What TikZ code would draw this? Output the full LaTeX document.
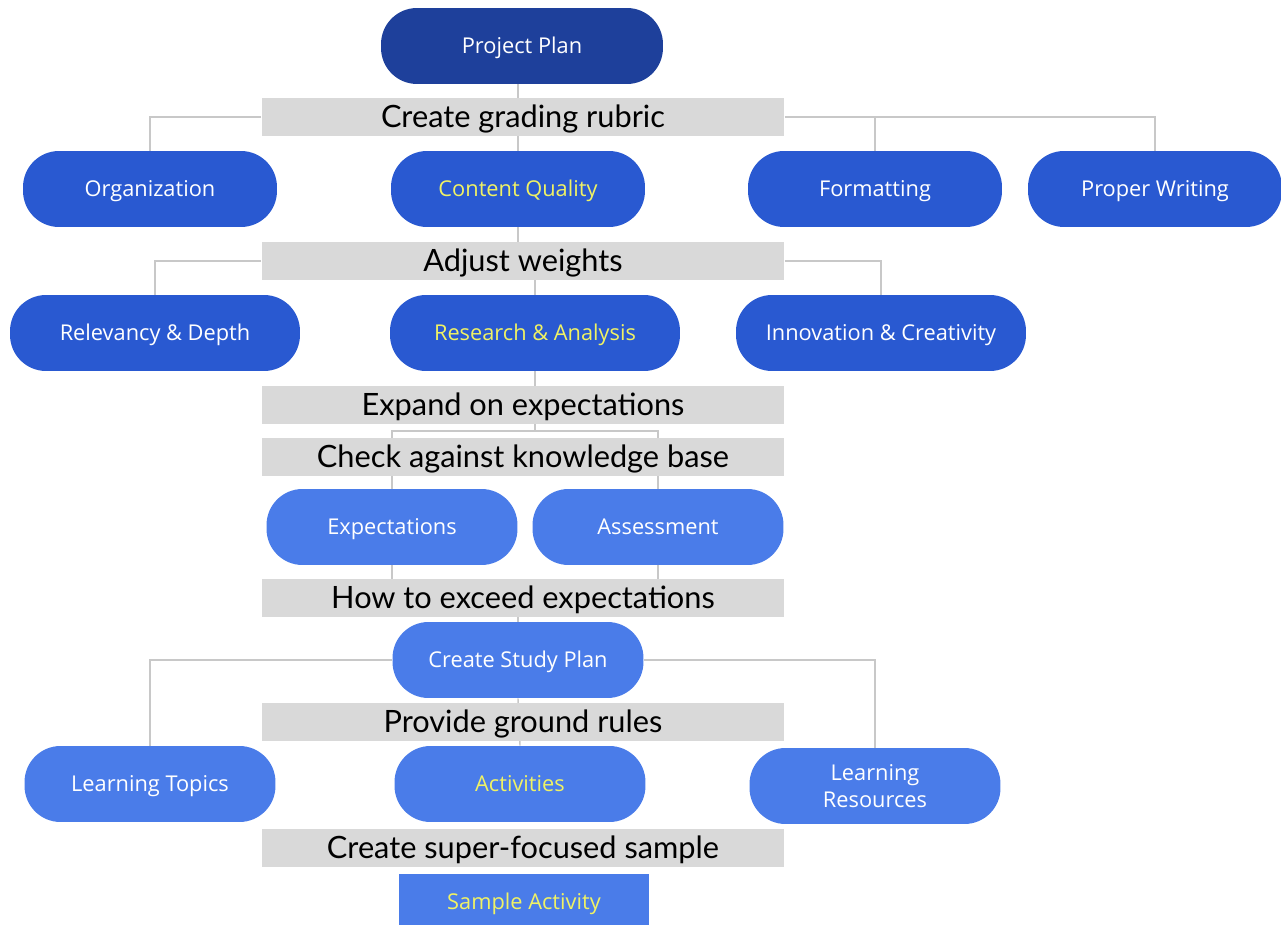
\documentclass[tikz,border=0pt]{standalone}
\usepackage{fontspec}
\setmainfont{Open Sans}
\newfontfamily\barfont{Lato}
\usepackage{tikz}
\usetikzlibrary{positioning, backgrounds}
\definecolor{planblue}{RGB}{30,64,155}
\definecolor{rowblue}{RGB}{41,89,209}
\definecolor{lightblue}{RGB}{74,124,233}
\definecolor{hilite}{RGB}{240,242,100}
\definecolor{bargray}{RGB}{217,217,217}
\definecolor{linegray}{RGB}{200,200,200}

\begin{document}
\begin{tikzpicture}[x=0.02cm, y=-0.02cm,
    pill/.style={fill=#1, text=white, rounded corners=0.72cm, minimum height=1.52cm,
      inner sep=0pt, align=center, text height=2ex, text depth=0.4ex,
      font=\fontsize{12.4}{15.5}\selectfont},
    wide/.style={minimum width=5.08cm},
    wider/.style={minimum width=5.8cm},
    narrow/.style={minimum width=5.02cm},
    pick/.style={text=hilite},
    bar/.style={fill=bargray, minimum width=10.46cm, minimum height=0.76cm,
      inner sep=0pt, text height=2.45ex, text depth=0.25ex,
      font=\barfont\fontsize{17.5}{20}\selectfont},
    link/.style={draw=linegray, line width=0.8pt}]
            \useasboundingbox (0,0) rectangle (1281,925);
            \node[pill=planblue, minimum width=5.64cm] (plan) at (522,46) {Project Plan};
            \node[bar] (rubric) at (523,117) {Create grading rubric};
            \node[pill=rowblue, wide] (org) at (150,189) {Organization};
            \node[pill=rowblue, wide, pick] (quality) at (518,189) {Content Quality};
            \node[pill=rowblue, wide] (format) at (875,189) {Formatting};
            \node[pill=rowblue, wide] (writing) at (1155,189) {Proper Writing};
            \node[bar] (weights) at (523,261) {Adjust weights};
            \node[pill=rowblue, wider] (depth) at (155,333) {Relevancy \& Depth};
            \node[pill=rowblue, wider, pick] (research) at (535,333) {Research \& Analysis};
            \node[pill=rowblue, wider] (innov) at (881,333) {Innovation \& Creativity};
            \node[bar] (expand) at (523,405) {Expand on expectations};
            \node[bar] (check) at (523,457) {Check against knowledge base};
            \coordinate (split) at (535,431);
            \node[pill=lightblue, narrow] (expect) at (392,527) {Expectations};
            \node[pill=lightblue, narrow] (assess) at (658,527) {Assessment};
            \node[bar] (exceed) at (523,598) {How to exceed expectations};
            \node[pill=lightblue, narrow] (study) at (518,660) {Create Study Plan};
            \node[bar] (rules) at (523,722) {Provide ground rules};
            \node[pill=lightblue, narrow] (topics) at (150,784) {Learning Topics};
            \node[pill=lightblue, narrow, pick] (activ) at (520,784) {Activities};
            \node[pill=lightblue, narrow, text height={}, text depth={}] (resources) at (875,786) {Learning\\Resources};
            \node[bar] (focused) at (523,848) {Create super-focused sample};
            \node[fill=lightblue, text=hilite, minimum width=5cm, minimum height=1.12cm,
              inner sep=0pt, text height=2ex, text depth=0.4ex,
              font=\fontsize{12.4}{15.5}\selectfont] (sample) at (524,902) {Sample Activity};
            \begin{scope}[on background layer]
              \draw[link] (quality.north) -- (quality.north |- plan.south);
              \draw[link] (rubric.west) -| (org.north);
              \foreach\n in {format,writing}{
                \draw[link] (rubric.east) -| (\n.north);
              }
              \draw[link] (quality.south) -- (quality.south |- weights.center);
              \draw[link] (research.north) -- (research.north |- weights.center);
              \draw[link] (weights.west) -| (depth.north);
              \draw[link] (weights.east) -| (innov.north);
              \draw[link] (research.south) -- (split);
              \draw[link] (expect.north) |- (split) -| (assess.north);
              \foreach\n in {expect,assess}{
                \draw[link] (\n.south) -- (\n.south |- exceed.center);
              }
              \draw[link] (study.north) -- (study.north |- exceed.south);
              \draw[link] (study.west) -| (topics.north);
              \draw[link] (study.east) -| (resources.north);
              \draw[link] (study.south) -- (activ.north);
            \end{scope}
          \end{tikzpicture}
\end{document}
